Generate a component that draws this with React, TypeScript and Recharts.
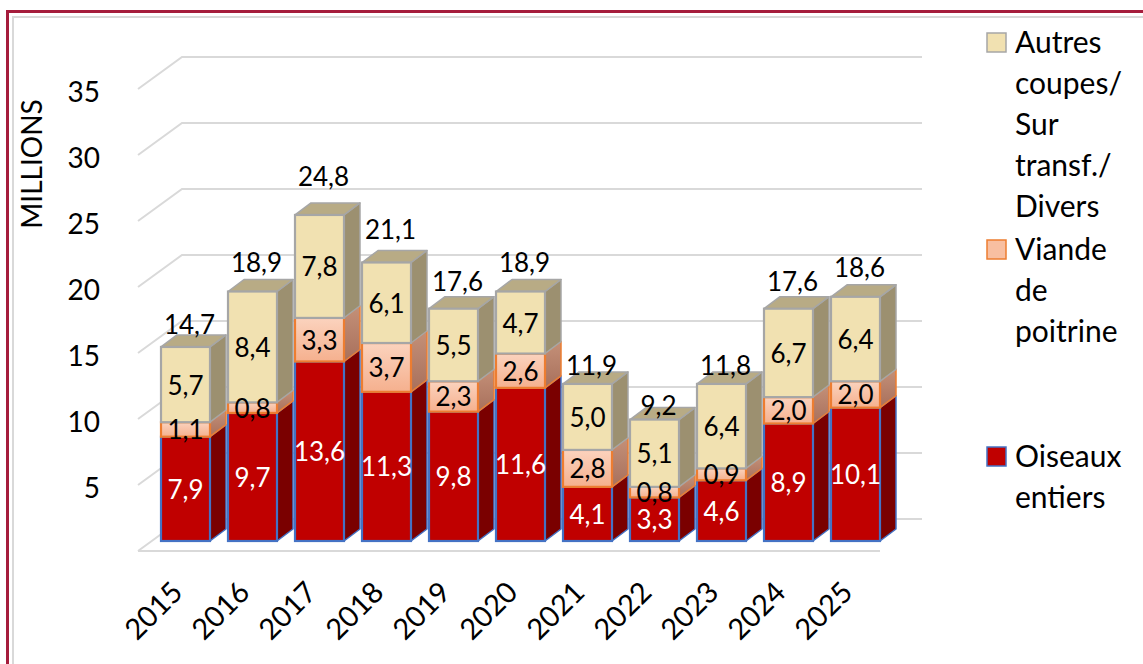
import React from 'react';
import { BarChart, Bar, XAxis, YAxis, CartesianGrid, LabelList, Legend } from 'recharts';

const years = ['2015', '2016', '2017', '2018', '2019', '2020', '2021', '2022', '2023', '2024', '2025'];
const oiseauxEntiers = [7.9, 9.7, 13.6, 11.3, 9.8, 11.6, 4.1, 3.3, 4.6, 8.9, 10.1];
const viandePoitrine = [1.1, 0.8, 3.3, 3.7, 2.3, 2.6, 2.8, 0.8, 0.9, 2.0, 2.0];
const autresCoupes = [5.7, 8.4, 7.8, 6.1, 5.5, 4.7, 5.0, 5.1, 6.4, 6.7, 6.4];
const totals = [14.7, 18.9, 24.8, 21.1, 17.6, 18.9, 11.9, 9.2, 11.8, 17.6, 18.6];
const yTicks = [0, 5, 10, 15, 20, 25, 30, 35];
const seriesNames = ['Oiseaux entiers', 'Viande de poitrine', 'Autres coupes/ Sur transf./ Divers'];
const axisTitle = 'MILLIONS';

const data = years.map((year, i) => ({
  year,
  oiseaux: oiseauxEntiers[i],
  poitrine: viandePoitrine[i],
  autres: autresCoupes[i],
  total: totals[i],
}));

const FONT = 'Lato, "Open Sans", sans-serif';
const W = 1143;
const H = 664;
const MARGIN = { top: 79, right: 254, bottom: 63, left: 102 };
const YAXIS_W = 50;
const XAXIS_H = 60;
const PLOT_BOTTOM = H - MARGIN.bottom - XAXIS_H;
const DX = 16;
const DY = 12;
const GRID = '#D9D9D9';
const LABEL_SIZE = 26;

const fmt = (v: number) => v.toFixed(1).replace('.', ',');

type SegStyle = {
  key: string;
  front: [string, string];
  side: [string, string];
  top?: string;
  stroke: string;
};

const redStyle: SegStyle = { key: 'r', front: ['#C00000', '#C00000'], side: ['#7A0000', '#7A0000'], stroke: '#4472C4' };
const pinkStyle: SegStyle = { key: 'p', front: ['#FBD3BE', '#F5B08E'], side: ['#C49078', '#A8705C'], stroke: '#ED7D31' };
const beigeStyle: SegStyle = { key: 'b', front: ['#F1E1B1', '#F1E1B1'], side: ['#9C9070', '#9C9070'], top: '#B8AB85', stroke: '#A6A6A6' };

const makeShape = (s: SegStyle) => (props: any) => {
  const { x, y, width, height, index } = props;
  if (!height || height <= 0) return <g />;
  const x2 = x + width;
  const fid = `f-${s.key}-${index}`;
  const sid = `s-${s.key}-${index}`;
  const sidePts = `${x2},${y} ${x2 + DX},${y - DY} ${x2 + DX},${y + height - DY} ${x2},${y + height}`;
  const topPts = `${x},${y} ${x + DX},${y - DY} ${x2 + DX},${y - DY} ${x2},${y}`;
  return (
    <g>
      <defs>
        <linearGradient id={fid} x1="0" y1="0" x2="0" y2="1">
          <stop offset="0" stopColor={s.front[0]} />
          <stop offset="1" stopColor={s.front[1]} />
        </linearGradient>
        <linearGradient id={sid} x1="0" y1="0" x2="0" y2="1">
          <stop offset="0" stopColor={s.side[0]} />
          <stop offset="1" stopColor={s.side[1]} />
        </linearGradient>
      </defs>
      <polygon points={sidePts} fill={`url(#${sid})`} stroke={s.stroke} strokeWidth={1.5} strokeLinejoin="round" />
      {s.top && <polygon points={topPts} fill={s.top} stroke={s.stroke} strokeWidth={1.5} strokeLinejoin="round" />}
      <rect x={x} y={y} width={width} height={height} fill={`url(#${fid})`} stroke={s.stroke} strokeWidth={2.2} />
    </g>
  );
};

const getBox = (props: any) => {
  const vb = props.viewBox && props.viewBox.width !== undefined ? props.viewBox : props;
  return { x: Number(vb.x), y: Number(vb.y), width: Number(vb.width), height: Number(vb.height) };
};

const segLabel = (color: string) => (props: any) => {
  const { x, y, width, height } = getBox(props);
  const v = Number(props.value);
  return (
    <text x={x + width / 2} y={y + height / 2} fill={color} textAnchor="middle" dominantBaseline="central"
      fontSize={LABEL_SIZE} fontFamily={FONT}>
      {fmt(v)}
    </text>
  );
};

const totalLabel = (props: any) => {
  const { x, y, width, height } = getBox(props);
  const idx = Number(props.index);
  const seg = autresCoupes[idx];
  const total = totals[idx];
  const ppu = height / seg;
  return (
    <text x={x + width / 2 + 4} y={y - 0.12 * total * ppu} fill="#000" textAnchor="middle" dominantBaseline="central"
      fontSize={LABEL_SIZE} fontFamily={FONT}>
      {fmt(total)}
    </text>
  );
};

const gridLine = (props: any) => {
  const { x1, x2, y1 } = props;
  const y = Number(y1);
  const isFloor = Math.abs(y - PLOT_BOTTOM) < 1;
  return (
    <g key={`g-${y}`}>
      <polyline points={`${x1 - 14},${y + 10} ${x1 + 30},${y - 22} ${x2 + 33},${y - 22}`} fill="none" stroke={GRID} strokeWidth={2} />
      {isFloor && <line x1={x1 - 14} y1={y + 10} x2={x2 - 9} y2={y + 10} stroke={GRID} strokeWidth={2} />}
    </g>
  );
};

const YTick = (props: any) => {
  const { y, payload } = props;
  if (payload.value === 0) return <g />;
  return (
    <text x={100} y={y + 11.5} textAnchor="end" dominantBaseline="central" fontSize={28} fontFamily={FONT} fill="#000">
      {payload.value}
    </text>
  );
};

const XTick = (props: any) => {
  const { x, y, payload } = props;
  const tx = x - 1;
  const ty = y + 45;
  return (
    <text x={tx} y={ty} transform={`rotate(-45 ${tx} ${ty})`} textAnchor="end" fontSize={29} fontFamily={FONT} fill="#000">
      {payload.value}
    </text>
  );
};

const legendItems = [
  { name: seriesNames[2], fill: '#F1E1B1', stroke: '#A6A6A6' },
  { name: seriesNames[1], fill: '#F8BFA1', stroke: '#ED7D31' },
  { name: seriesNames[0], fill: '#C00000', stroke: '#4472C4' },
];

const LegendContent = () => (
  <svg width={158} height={540} style={{ display: 'block', overflow: 'visible' }}>
    {legendItems.map((it, i) => {
      const top = 33 + i * 207;
      return (
        <g key={it.name}>
          <rect x={2} y={top} width={19} height={19} fill={it.fill} stroke={it.stroke} strokeWidth={1.5} />
          {it.name.split(' ').map((w, j) => (
            <text key={j} x={30} y={top + 20 + j * 41} fontSize={30} fontFamily={FONT} fill="#000">
              {w}
            </text>
          ))}
        </g>
      );
    })}
  </svg>
);

const AxisTitle = () => (
  <text x={31} y={164} transform="rotate(-90 31 164)" textAnchor="middle" dominantBaseline="central"
    fontSize={28} fontFamily={FONT} fill="#000">
    {axisTitle}
  </text>
);

export default function App() {
  return (
    <div style={{ position: 'absolute', left: 0, top: 0, width: W, height: H, overflow: 'hidden', background: '#fff' }}>
      <div style={{ position: 'absolute', left: 6, top: 10, width: 1300, height: 800, border: '3px solid #A51C3C', boxSizing: 'border-box' }} />
      <div style={{ position: 'absolute', left: 12, top: 16, width: 1300, height: 800, border: '2px solid #D9D9D9', boxSizing: 'border-box' }} />
      <div style={{ position: 'absolute', left: 0, top: 0 }}>
        <BarChart width={W} height={H} data={data} margin={MARGIN} barSize={49}>
          <CartesianGrid vertical={false} horizontal={gridLine} />
          <XAxis dataKey="year" height={XAXIS_H} axisLine={false} tickLine={false} tick={<XTick />} interval={0} />
          <YAxis width={YAXIS_W} domain={[0, 35]} ticks={yTicks} axisLine={false} tickLine={false} tick={<YTick />}
            label={{ content: () => <AxisTitle /> }} />
          <Legend layout="horizontal" verticalAlign="middle" align="center" content={<LegendContent />}
            wrapperStyle={{ left: 985, top: 0, width: 158, height: 540 }} />
          <Bar dataKey="oiseaux" name={seriesNames[0]} stackId="a" fill="#C00000" shape={makeShape(redStyle)} isAnimationActive={false}>
            <LabelList dataKey="oiseaux" content={segLabel('#FFFFFF')} />
          </Bar>
          <Bar dataKey="poitrine" name={seriesNames[1]} stackId="a" fill="#F8BFA1" shape={makeShape(pinkStyle)} isAnimationActive={false}>
            <LabelList dataKey="poitrine" content={segLabel('#000000')} />
          </Bar>
          <Bar dataKey="autres" name={seriesNames[2]} stackId="a" fill="#F1E1B1" shape={makeShape(beigeStyle)} isAnimationActive={false}>
            <LabelList dataKey="autres" content={segLabel('#000000')} />
            <LabelList dataKey="total" content={totalLabel} />
          </Bar>
        </BarChart>
      </div>
    </div>
  );
}
